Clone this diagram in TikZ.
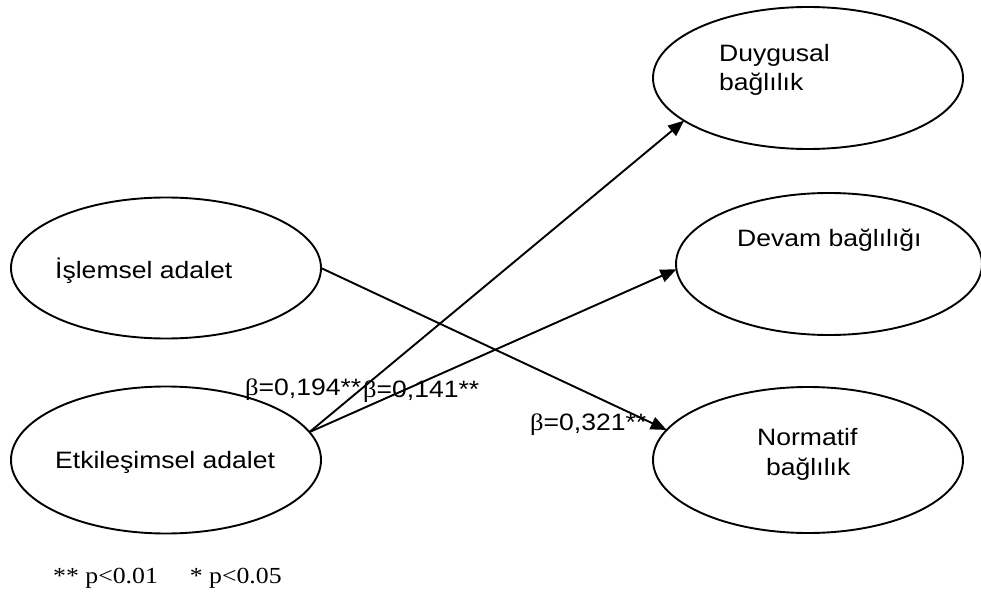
\documentclass[tikz,border=0pt]{standalone}
\usepackage{fontspec}
\setmainfont{Liberation Sans}
\newfontfamily\arialw[FakeStretch=1.12]{Liberation Sans}
\newfontfamily\timesw[FakeStretch=1.12]{Liberation Serif}
\usetikzlibrary{shapes.geometric,arrows.meta}

\begin{document}
\begin{tikzpicture}[x=1pt,y=-1pt,
  construct/.style={draw, ellipse, line width=1.9pt, inner sep=0pt, outer sep=0pt},
  lbl/.style={inner sep=0pt, anchor=base west, font=\arialw\fontsize{23.7}{29}\selectfont},
  effect/.style={line width=1.9pt, -{Triangle[length=16pt,width=13pt]}},
  note/.style={inner sep=0pt, anchor=base west, font=\timesw\fontsize{23}{27}\selectfont}]
\useasboundingbox (0,0) rectangle (981,593);

% constructs
\node[construct, minimum width=310pt, minimum height=141pt] (isl) at (166,268) {};
\node[construct, minimum width=310pt, minimum height=147pt] (etk) at (166,460) {};
\node[construct, minimum width=310pt, minimum height=142pt] (duy) at (808,78) {};
\node[construct, minimum width=306pt, minimum height=142pt] (dev) at (829,264) {};
\node[construct, minimum width=310pt, minimum height=146pt] (nor) at (808,460) {};

% construct names
\node[lbl] (islT) at (55,279) {İşlemsel adalet};
\node[lbl] (etkT) at (55,468) {Etkileşimsel adalet};
\node[lbl] (duyT1) at (719,62) {Duygusal};
\node[lbl] (duyT2) at (719,91) {bağlılık};
\node[lbl] (devT) at (737,247) {Devam bağlılığı};
\node[lbl] (norT1) at (757,445) {Normatif};
\node[lbl] (norT2) at (766,475) {bağlılık};

% paths
\draw[effect] (isl.east) -- (nor.168);
\draw[effect] (etk.11) -- (duy.199);
\draw[effect] (etk.11) -- (dev.182);

% coefficients
\node[lbl] (b1) at (245,395) {{\timesw β}=0,194**};
\node[lbl] (b2) at (363,397) {{\timesw β}=0,141**};
\node[lbl] (b3) at (530,430) {{\timesw β}=0,321**};

% significance note
\node[note] (sig) at (53,583) {** p<0.01\hspace{32pt}* p<0.05};
\end{tikzpicture}
\end{document}
